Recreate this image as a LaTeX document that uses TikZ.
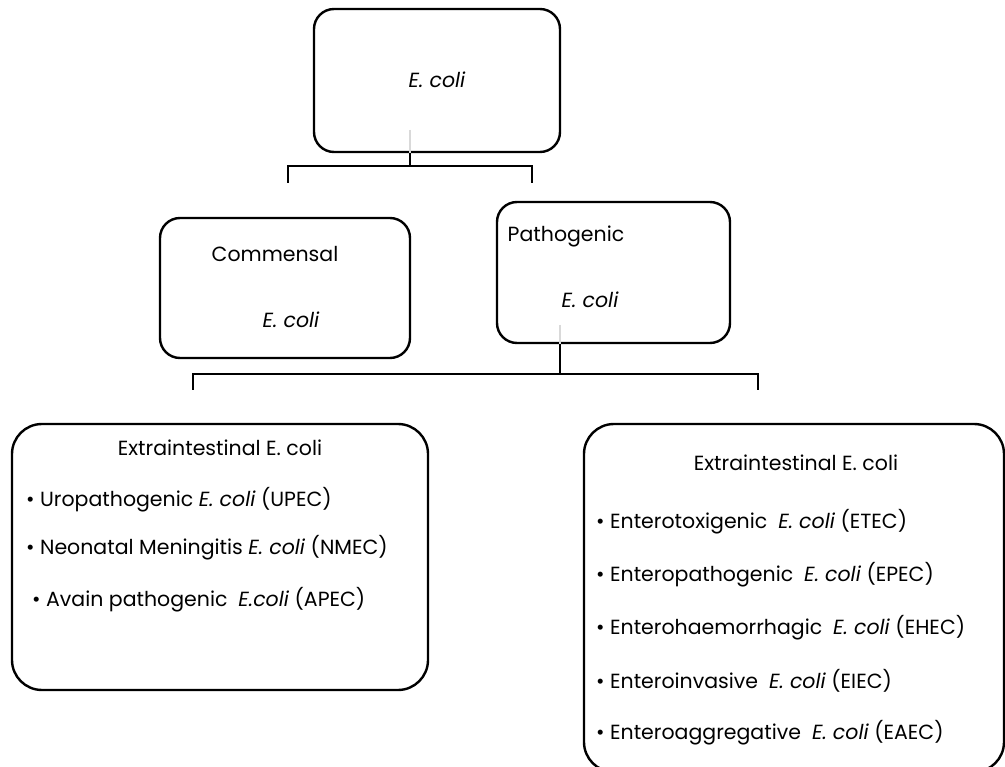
\documentclass[tikz,border=0pt]{standalone}
\usepackage{fontspec}
\setmainfont{Poppins}
\begin{document}
\begin{tikzpicture}[x=1pt,y=-1pt,
  box/.style={draw=black,line width=2.4pt,rounded corners=20pt,inner sep=0pt},
  bigbox/.style={draw=black,line width=2.4pt,rounded corners=30pt,inner sep=0pt},
  conn/.style={draw=black,line width=2pt},
  txt/.style={font=\fontsize{20.5}{24}\selectfont,inner sep=0pt},
  item/.style={txt,anchor=west}]
\useasboundingbox (0,0) rectangle (1005,767);
\begin{scope}
\clip (0,0) rectangle (1005,767);
% boxes
\node[box,minimum width=246pt,minimum height=143pt] (top) at (437,80.5) {};
\node[box,minimum width=250pt,minimum height=140pt] (comm) at (285,288) {};
\node[box,minimum width=233pt,minimum height=141pt] (path) at (613.5,272.5) {};
\node[bigbox,minimum width=416pt,minimum height=266pt] (extra) at (220,557) {};
\node[bigbox,minimum width=420pt,minimum height=348pt] (intes) at (794,598) {};
\end{scope}
% texts
\node[txt] (ttop) at (437,80) {\itshape E. coli};
\node[txt] (tcomm1) at (275,254) {Commensal};
\node[txt] (tcomm2) at (291,320) {\itshape E. coli};
\node[txt] (tpath1) at (566,236) {Pathogenic};
\node[txt] (tpath2) at (590,300) {\itshape E. coli};
\node[txt] (textra) at (220,448) {Extraintestinal E. coli};
\node[item] (e1) at (26,500) {\textbullet\ Uropathogenic \textit{E. coli} (UPEC)};
\node[item] (e2) at (26,548) {\textbullet\ Neonatal Meningitis \textit{E. coli} (NMEC)};
\node[item] (e3) at (32,600) {\textbullet\ Avain pathogenic \ \textit{E.coli} (APEC)};
\node[txt] (tintes) at (796,463) {Extraintestinal E. coli};
\node[item] (i1) at (596,522) {\textbullet\ Enterotoxigenic \ \textit{E. coli} (ETEC)};
\node[item] (i2) at (596,575) {\textbullet\ Enteropathogenic \ \textit{E. coli} (EPEC)};
\node[item] (i3) at (596,628) {\textbullet\ Enterohaemorrhagic \ \textit{E. coli} (EHEC)};
\node[item] (i4) at (596,681) {\textbullet\ Enteroinvasive \ \textit{E. coli} (EIEC)};
\node[item] (i5) at (596,733) {\textbullet\ Enteroaggregative \ \textit{E. coli} (EAEC)};
% connectors
\coordinate (j1) at (410,166);
\coordinate (b1l) at (288,183);
\coordinate (b1r) at (532,183);
\draw[gray!30,line width=2pt] (410,130) -- (top.south -| j1);
\draw[conn] (top.south -| j1) -- (j1);
\draw[conn] (b1l) -- (b1l |- j1) -- (b1r |- j1) -- (b1r);
\coordinate (j2) at (560,374);
\coordinate (b2l) at (193,390);
\coordinate (b2r) at (758,390);
\draw[gray!30,line width=2pt] (560,325) -- (path.south -| j2);
\draw[conn] (path.south -| j2) -- (j2);
\draw[conn] (b2l) -- (b2l |- j2) -- (b2r |- j2) -- (b2r);
\end{tikzpicture}
\end{document}
